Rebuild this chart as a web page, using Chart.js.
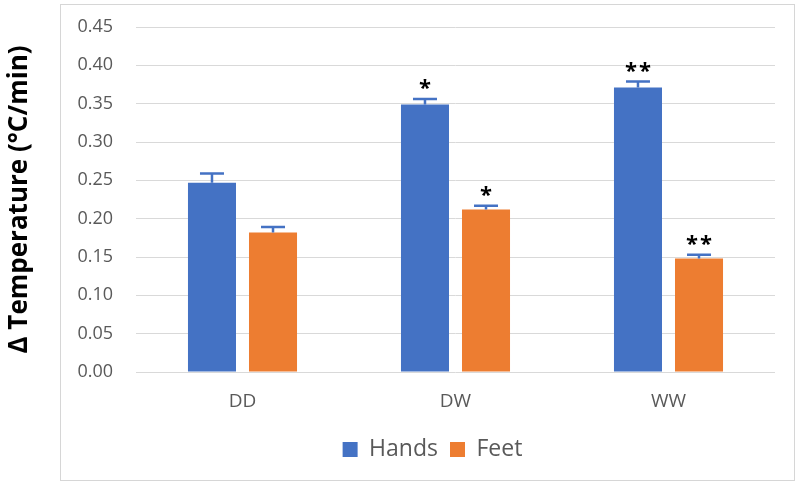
<!DOCTYPE html>
<html>
<head>
<meta charset="utf-8">
<script src="https://cdn.jsdelivr.net/npm/chart.js@4.4.1/dist/chart.umd.min.js"></script>
<style>
  html, body { margin: 0; padding: 0; background: #ffffff; }
  #wrap { position: relative; width: 800px; height: 485px; }
  #frame { position: absolute; left: 60px; top: 4px; width: 733px; height: 475px; border: 1px solid #d6d6d6; }
  canvas { position: absolute; left: 0; top: 0; }
</style>
</head>
<body>
<div id="wrap">
  <div id="frame"></div>
  <canvas id="c" width="800" height="485"></canvas>
</div>
<script>
const categories = ['DD', 'DW', 'WW'];
const seriesNames = ['Hands', 'Feet'];
const handsValues = [0.247, 0.349, 0.371];
const feetValues = [0.182, 0.212, 0.148];
const handsErrors = [0.012, 0.007, 0.008];
const feetErrors = [0.007, 0.005, 0.005];
const handsMarks = ['', '*', '**'];
const feetMarks = ['', '*', '**'];
const yTicks = [0, 0.05, 0.10, 0.15, 0.20, 0.25, 0.30, 0.35, 0.40, 0.45];

const BLUE = '#4472C4';
const ORANGE = '#ED7D31';
const TEXT = '#595959';
const FONT = "'Open Sans', 'Noto Sans', sans-serif";

const errorPlugin = {
  id: 'errorBars',
  afterDatasetsDraw(chart) {
    const ctx = chart.ctx;
    const yScale = chart.scales.y;
    chart.data.datasets.forEach((ds, di) => {
      const meta = chart.getDatasetMeta(di);
      meta.data.forEach((bar, i) => {
        const v = ds.data[i];
        const e = ds.errors[i];
        const yTop = yScale.getPixelForValue(v + e);
        const yBar = yScale.getPixelForValue(v);
        ctx.save();
        ctx.strokeStyle = BLUE;
        ctx.lineWidth = 2.5;
        ctx.beginPath();
        ctx.moveTo(bar.x, yBar);
        ctx.lineTo(bar.x, yTop);
        ctx.moveTo(bar.x - 12, yTop);
        ctx.lineTo(bar.x + 12, yTop);
        ctx.stroke();
        const m = ds.marks[i];
        if (m) {
          ctx.fillStyle = '#000000';
          ctx.font = "bold 22px " + FONT;
          ctx.textAlign = 'center';
          ctx.textBaseline = 'middle';
          ctx.fillText(m.split('').join('\u200A'), bar.x, yTop - 10);
        }
        ctx.restore();
      });
    });
  }
};

const legendShift = {
  id: 'legendShift',
  afterLayout(chart) {
    const lg = chart.legend;
    if (lg) { lg.left += 45; lg.right += 45; }
  }
};

new Chart(document.getElementById('c'), {
  type: 'bar',
  data: {
    labels: categories,
    datasets: [
      { label: seriesNames[0], data: handsValues, errors: handsErrors, marks: handsMarks,
        backgroundColor: BLUE, categoryPercentage: 0.573, barPercentage: 0.787 },
      { label: seriesNames[1], data: feetValues, errors: feetErrors, marks: feetMarks,
        backgroundColor: ORANGE, categoryPercentage: 0.573, barPercentage: 0.787 }
    ]
  },
  options: {
    responsive: false,
    animation: false,
    devicePixelRatio: 1,
    layout: { padding: { left: 0, right: 25, top: 27, bottom: 14 } },
    plugins: {
      legend: {
        position: 'bottom',
        labels: {
          color: TEXT,
          font: { family: FONT, size: 23 },
          boxWidth: 15, boxHeight: 15, padding: 12, useBorderRadius: false
        }
      },
      tooltip: { enabled: false }
    },
    scales: {
      x: {
        grid: { display: false },
        border: { display: false },
        ticks: { color: TEXT, font: { family: FONT, size: 19 }, padding: 10 },
        afterFit(scale) { scale.height = 54; }
      },
      y: {
        min: 0, max: 0.45,
        afterBuildTicks(scale) { scale.ticks = yTicks.map(v => ({ value: v })); },
        afterFit(scale) { scale.width = 136; scale.paddingTop = 0; scale.paddingBottom = 0; },
        grid: { color: '#d9d9d9', lineWidth: 1, drawTicks: false },
        border: { display: false },
        ticks: {
          color: TEXT, font: { family: FONT, size: 18 }, padding: 23,
          callback: v => Number(v).toFixed(2)
        },
        title: {
          display: true, text: 'Δ Temperature (°C/min)', color: '#000000',
          font: { family: FONT, size: 26, weight: 'bold' }, padding: { top: 4, bottom: 0 }
        }
      }
    }
  },
  plugins: [errorPlugin, legendShift]
});
</script>
</body>
</html>
